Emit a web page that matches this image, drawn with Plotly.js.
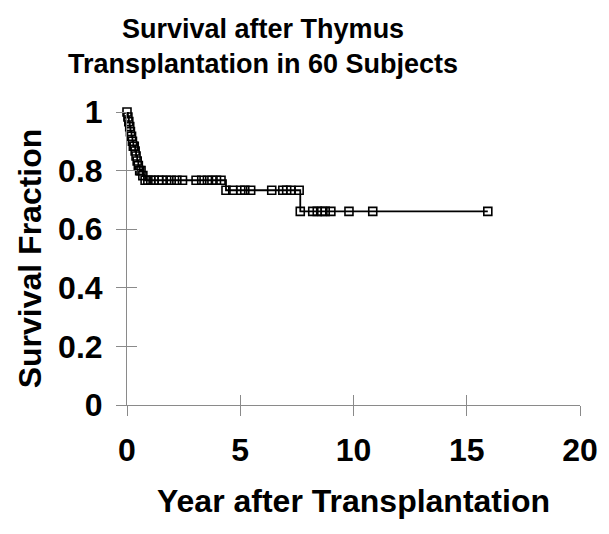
<!DOCTYPE html>
<html>
<head>
<meta charset="utf-8">
<script src="https://cdn.plot.ly/plotly-3.0.1.min.js"></script>
<style>html,body{margin:0;padding:0;background:#fff;}#chart{width:609px;height:534px;}</style>
</head>
<body>
<div id="chart"></div>
<script>
// Kaplan-Meier step curve points (years, survival fraction)
const years = [0.0, 0.04, 0.08, 0.12, 0.15, 0.2, 0.24, 0.28, 0.32, 0.36, 0.4, 0.45, 0.5, 0.56, 0.62, 0.7, 0.8,
  0.92, 1.05, 1.2, 1.4, 1.55, 1.75, 1.95, 2.2, 2.45, 3.05, 3.3, 3.55, 3.75, 3.95, 4.15,
  4.37, 4.67, 5.02, 5.2, 5.46, 6.39, 6.88, 7.05, 7.23, 7.6,
  7.65, 8.2, 8.4, 8.6, 8.75, 9.0, 9.8, 10.85, 15.93];
const survival = [1.0, 0.983, 0.967, 0.95, 0.933, 0.917, 0.9, 0.883, 0.883, 0.867, 0.85, 0.833, 0.817, 0.8, 0.8, 0.783, 0.767,
  0.767, 0.767, 0.767, 0.767, 0.767, 0.767, 0.767, 0.767, 0.767, 0.767, 0.767, 0.767, 0.767, 0.767, 0.767,
  0.733, 0.733, 0.733, 0.733, 0.733, 0.733, 0.733, 0.733, 0.733, 0.733,
  0.661, 0.661, 0.661, 0.661, 0.661, 0.661, 0.661, 0.661, 0.661];
const xTicks = [0, 5, 10, 15, 20];
const yTicks = [0, 0.2, 0.4, 0.6, 0.8, 1];

const FONT = "'Liberation Sans', Arial, sans-serif";
const axisCol = '#8a8a8a';

const traces = [
  {
    x: years, y: survival, type: 'scatter', mode: 'lines+markers',
    line: {shape: 'hv', color: '#000', width: 1.8},
    marker: {symbol: 'square-open', size: 8, color: '#000', line: {width: 1.6, color: '#000'}},
    cliponaxis: false, hoverinfo: 'x+y', showlegend: false
  },
  {
    x: years, y: survival, type: 'scatter', mode: 'markers', xaxis: 'x2', yaxis: 'y2',
    marker: {opacity: 0}, hoverinfo: 'skip', showlegend: false
  }
];

const layout = {
  width: 609, height: 534,
  paper_bgcolor: '#fff', plot_bgcolor: '#fff',
  margin: {l: 127, r: 29, t: 112, b: 129},
  font: {family: FONT, color: '#000'},
  showlegend: false,
  title: {
    text: 'Survival after Thymus<br>Transplantation in 60 Subjects',
    font: {family: FONT, size: 27, weight: 'bold', color: '#000'},
    x: 0.432, xref: 'container', xanchor: 'center',
    y: 0.929, yref: 'container', yanchor: 'top'
  },
  xaxis: {
    range: [0, 20], tickvals: xTicks, ticktext: xTicks.map(String),
    showline: true, linecolor: axisCol, linewidth: 1,
    ticks: 'outside', ticklen: 10, tickcolor: axisCol, tickwidth: 1,
    showgrid: false, zeroline: false,
    tickfont: {family: FONT, size: 32, weight: 'bold', color: '#000'},
    ticklabelstandoff: 7,
    title: {text: 'Year after Transplantation', standoff: 22,
      font: {family: FONT, size: 32, weight: 'bold', color: '#000'}}
  },
  yaxis: {
    range: [0, 1], tickvals: yTicks, ticktext: yTicks.map(String),
    showline: true, linecolor: axisCol, linewidth: 1,
    ticks: 'outside', ticklen: 10, tickcolor: axisCol, tickwidth: 1,
    showgrid: false, zeroline: false,
    tickfont: {family: FONT, size: 32, weight: 'bold', color: '#000'},
    ticklabelstandoff: 7,
    title: {text: 'Survival Fraction', standoff: 6,
      font: {family: FONT, size: 32, weight: 'bold', color: '#000'}}
  },
  xaxis2: {
    range: [0, 20], overlaying: 'x', anchor: 'y2', side: 'bottom', tickvals: xTicks,
    ticks: 'inside', ticklen: 10, tickcolor: axisCol, tickwidth: 1,
    showticklabels: false, showgrid: false, zeroline: false, showline: false
  },
  yaxis2: {
    range: [0, 1], overlaying: 'y', anchor: 'x2', side: 'left', tickvals: yTicks,
    ticks: 'inside', ticklen: 10, tickcolor: axisCol, tickwidth: 1,
    showticklabels: false, showgrid: false, zeroline: false, showline: false
  }
};

Plotly.newPlot('chart', traces, layout, {displayModeBar: false, staticPlot: true});
</script>
</body>
</html>
